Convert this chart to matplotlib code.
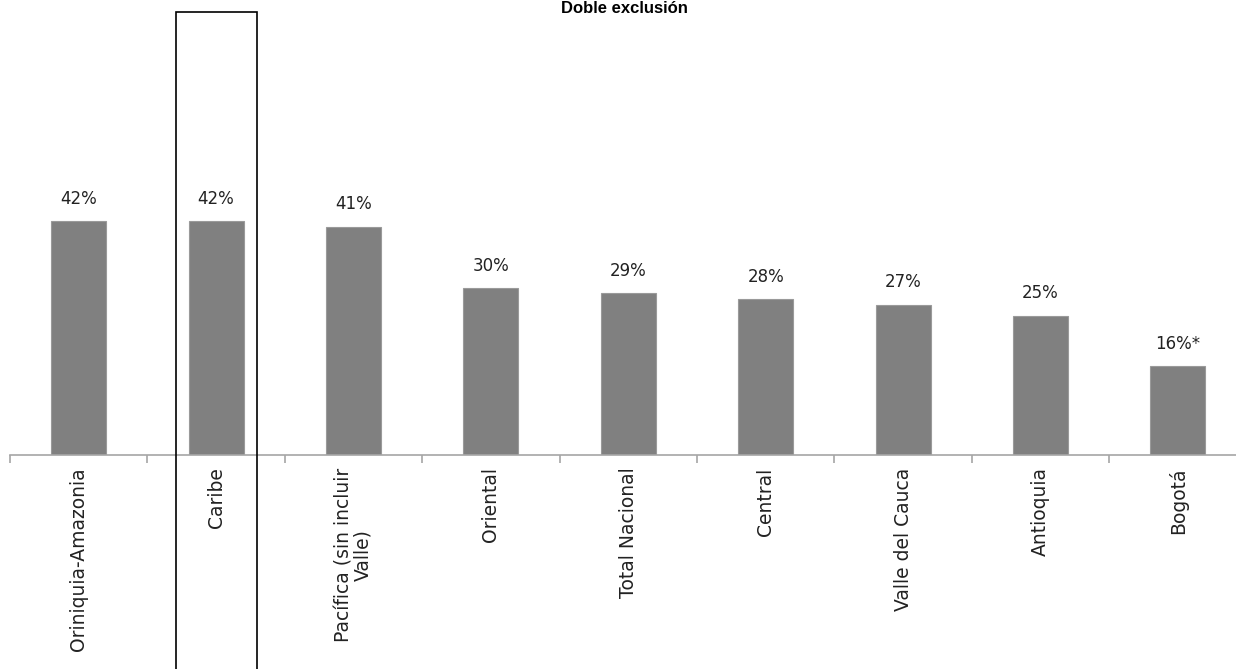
import matplotlib
matplotlib.use('Agg')
import matplotlib.pyplot as plt
import matplotlib.patches as patches
from matplotlib.transforms import blended_transform_factory

plt.rcParams['font.family'] = ['DejaVu Sans']

# data
categorias = ['Oriniquia-Amazonia', 'Caribe', 'Pacífica (sin incluir\nValle)', 'Oriental',
              'Total Nacional', 'Central', 'Valle del Cauca', 'Antioquia', 'Bogotá']
valores = [42, 42, 41, 30, 29, 28, 27, 25, 16]
etiquetas = ['42%', '42%', '41%', '30%', '29%', '28%', '27%', '25%', '16%*']

W, H = 1236, 669
fig = plt.figure(figsize=(W / 100, H / 100), dpi=100)
fig.set_facecolor('white')

# axes: baseline at y=455 px, 5.57 px per %, category width 137.4 px
ymax = 45
ax = fig.add_axes([10 / W, (H - 455) / H, 9 * 137.4 / W, ymax * 5.57 / H])
x = list(range(len(categorias)))
ax.bar(x, valores, width=0.4, color='#808080', edgecolor='#9a9a9a', linewidth=0.8, zorder=2)
ax.set_xlim(-0.5, len(categorias) - 0.5)
ax.set_ylim(0, ymax)

for xi, v, t in zip(x, valores, etiquetas):
    ax.text(xi, v + 2.4, t, ha='center', va='bottom', fontsize=12, color='#222222')

for s in ['top', 'right', 'left']:
    ax.spines[s].set_visible(False)
ax.spines['bottom'].set_color('#a6a6a6')
ax.spines['bottom'].set_linewidth(1.2)
ax.set_yticks([])

# ticks at category boundaries, labels at centres
ax.set_xticks([i - 0.5 for i in range(len(categorias) + 1)], minor=False)
ax.set_xticklabels([])
ax.tick_params(axis='x', which='major', length=6, width=1.2, color='#a6a6a6', direction='out')
ax.set_xticks(x, minor=True)
ax.set_xticklabels(categorias, minor=True, rotation=90, fontsize=13.5, color='#222222',
                   va='top', ha='center', multialignment='center', linespacing=1.0)
ax.tick_params(axis='x', which='minor', length=0, pad=9)

# box around Caribe
tr = blended_transform_factory(ax.transData, fig.transFigure)
rect = patches.Rectangle((1 - 0.295, -0.05), 0.59, (H - 12) / H + 0.05, transform=tr,
                         fill=False, edgecolor='black', linewidth=1.2, clip_on=False)
fig.add_artist(rect)

fig.text(0.505, 1 - 1 / H, 'Doble exclusión', ha='center', va='top',
         fontsize=12, fontweight='bold', family=['Liberation Sans', 'DejaVu Sans'])

fig.savefig('out.png', dpi=100)
